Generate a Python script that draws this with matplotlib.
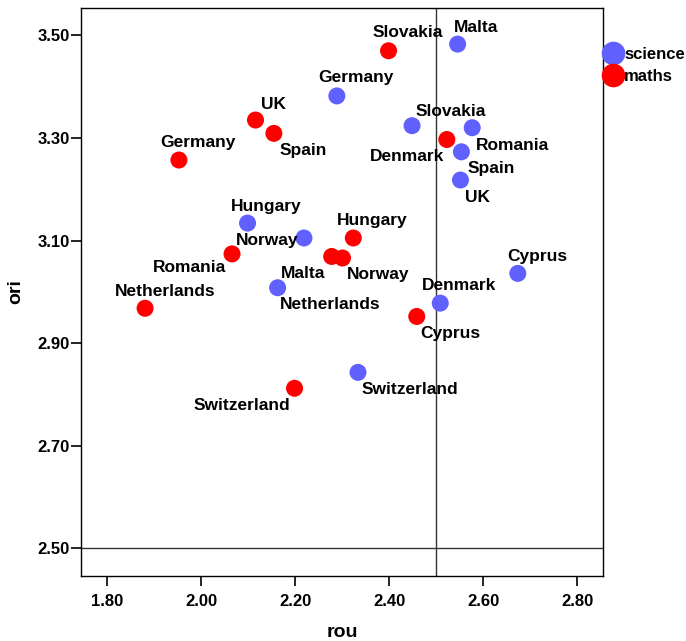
import matplotlib
matplotlib.use("Agg")
import matplotlib.pyplot as plt
from matplotlib.lines import Line2D

plt.rcParams["font.family"] = ["Liberation Sans", "DejaVu Sans"]
plt.rcParams["font.weight"] = "bold"

# science (blue) points
sci_countries = ["Malta", "Germany", "Slovakia", "Romania", "Spain", "UK",
                 "Hungary", "Norway", "Netherlands", "Cyprus", "Denmark", "Switzerland"]
sci_rou = [2.546, 2.289, 2.449, 2.577, 2.554, 2.552, 2.099, 2.219, 2.163, 2.674, 2.509, 2.334]
sci_ori = [3.483, 3.382, 3.324, 3.320, 3.273, 3.218, 3.134, 3.105, 3.008, 3.036, 2.978, 2.843]

# maths (red) points
math_countries = ["Slovakia", "UK", "Spain", "Germany", "Denmark", "Hungary",
                  "Romania", "Malta", "Norway", "Netherlands", "Cyprus", "Switzerland"]
math_rou = [2.399, 2.116, 2.155, 1.953, 2.523, 2.324, 2.066, 2.278, 2.301, 1.881, 2.459, 2.199]
math_ori = [3.470, 3.335, 3.309, 3.257, 3.297, 3.105, 3.074, 3.069, 3.066, 2.968, 2.952, 2.812]

# label offsets in pixels (dx, dy) from each point
sci_offsets = [(18, 17), (19, 18), (39, 14), (40, -18), (30, -17), (17, -17),
               (19, 17), (-37, -3), (53, -17), (20, 17), (19, 18), (52, -17)]
math_offsets = [(19, 18), (18, 16), (29, -17), (19, 18), (-40, -17), (19, 17),
                (-43, -14), (-29, -17), (36, -17), (20, 17), (34, -17), (-53, -17)]

xticks = [1.8, 2.0, 2.2, 2.4, 2.6, 2.8]
yticks = [2.5, 2.7, 2.9, 3.1, 3.3, 3.5]

blue = "#6060ff"
red = "#ff0000"

fig = plt.figure(figsize=(6.86, 6.41), dpi=100)
ax = fig.add_axes([0.1181, 0.1014, 0.7614, 0.8866])

ax.axhline(2.5, color="#333333", lw=1.0, zorder=1)
ax.axvline(2.5, color="#333333", lw=1.0, zorder=1)

ax.scatter(sci_rou, sci_ori, s=150, color=blue, edgecolors="none", zorder=3)
ax.scatter(math_rou, math_ori, s=150, color=red, edgecolors="none", zorder=3)

for name, x, y, off in zip(sci_countries, sci_rou, sci_ori, sci_offsets):
    ax.annotate(name, (x, y), xytext=off, textcoords="offset pixels",
                ha="center", va="center", fontsize=12.5, fontweight="bold", zorder=4)
for name, x, y, off in zip(math_countries, math_rou, math_ori, math_offsets):
    ax.annotate(name, (x, y), xytext=off, textcoords="offset pixels",
                ha="center", va="center", fontsize=12.5, fontweight="bold", zorder=4)

ax.set_xlim(1.7447, 2.856)
ax.set_ylim(2.446, 3.554)
ax.set_xticks(xticks)
ax.set_yticks(yticks)
ax.set_xticklabels([f"{t:.2f}" for t in xticks], fontsize=12, fontweight="bold")
ax.set_yticklabels([f"{t:.2f}" for t in yticks], fontsize=12, fontweight="bold")
ax.tick_params(direction="out", length=7, width=1.2, pad=6)
ax.tick_params(axis="y", pad=1)
for sp in ax.spines.values():
    sp.set_linewidth(1.0)

ax.set_xlabel("rou", fontsize=14, fontweight="bold", labelpad=11)
ax.set_ylabel("ori", fontsize=14, fontweight="bold", labelpad=10)

handles = [Line2D([], [], marker="o", ls="none", color=blue, markersize=16),
           Line2D([], [], marker="o", ls="none", color=red, markersize=16)]
ax.legend(handles, ["science", "maths"], loc="upper left", bbox_to_anchor=(0.987, 0.943),
          frameon=False, handletextpad=0.05, labelspacing=0.45, borderaxespad=0,
          handlelength=1.2, prop={"size": 12, "weight": "bold"})

fig.savefig("out.png", dpi=100)
